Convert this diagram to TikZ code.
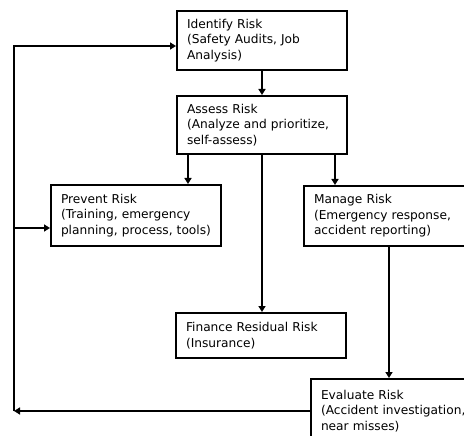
\documentclass[tikz,border=0pt]{standalone}
\usepackage{fontspec}
\setmainfont{DejaVu Sans}
\usetikzlibrary{arrows.meta,positioning}

\begin{document}
\begin{tikzpicture}[x=1pt, y=-1pt, line width=2pt,
		riskbox/.style={draw, rectangle, anchor=north west, minimum width=170pt, text width=150pt, inner xsep=10pt, align=left, font=\fontsize{12.2}{15.5}\selectfont},
		arr/.style={-{Triangle[length=6pt,width=7pt]}}]
		\useasboundingbox (0,0) rectangle (464,436);
		\clip (0,0) rectangle (464,436);
		
		\node[riskbox, minimum height=59pt] (ident) at (176,10) {Identify Risk\\(Safety Audits, Job\\Analysis)};
		\node[riskbox, minimum height=58pt] (assess) at (176,95) {Assess Risk\\(Analyze and prioritize,\\self-assess)};
		
		\node[riskbox, minimum height=61pt] (prevent) at (50,184) {Prevent Risk\\(Training, emergency\\planning, process, tools)};
		\node[riskbox, minimum height=60pt] (manage) at (303,185) {Manage Risk\\(Emergency response,\\accident reporting)};
		
		\node[riskbox, minimum height=45pt] (finance) at (175,312) {Finance Residual Risk\\(Insurance)};
		\node[riskbox, minimum height=64pt] (evaluate) at (310,378) {Evaluate Risk\\(Accident investigation,\\near misses)};
		
		\coordinate (loop) at (14,0);
		\coordinate (a1) at ([xshift=12pt]assess.south west);
		\coordinate (a3) at ([xshift=-13pt]assess.south east);
		\coordinate (i1) at ([yshift=-5.5pt]ident.west);
		\coordinate (p1) at ([yshift=-12.5pt]prevent.west);
		
		% Draw edges
		\draw[arr] (ident) -- (assess);
		\draw[arr] (a1) -- (a1 |- prevent.north);
		\draw[arr] (assess.south) -- (assess.south |- finance.north);
		\draw[arr] (a3) -- (a3 |- manage.north);
		\draw[arr] (manage.south) -- (manage.south |- evaluate.north);
		
		% feedback loop
		\draw[arr] (evaluate.west) -- (evaluate.west -| loop);
		\draw[arr] (evaluate.west -| loop) -- (i1 -| loop) -- (i1);
		\draw[arr] (p1 -| loop) -- (p1);
	\end{tikzpicture}
\end{document}
